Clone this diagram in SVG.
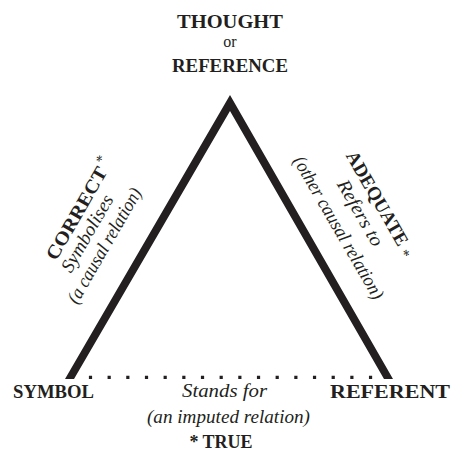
<svg xmlns="http://www.w3.org/2000/svg" width="453" height="469" viewBox="0 0 453 469">
<style>
text{font-family:"Liberation Serif","Times New Roman",serif;fill:#231f20}
.b{font-weight:bold;font-size:19px}
.i{font-style:italic;font-size:19px}
.r{font-size:16px}
.m{text-anchor:middle}
.s{font-size:15px;font-weight:normal}
</style>
<rect width="453" height="469" fill="#fff"/>
<g id="connectors">
<polygon id="triangle" points="230,95 393,379 384,379 230,111 74,379 65,379" fill="#231f20"/>
<line id="stands-for" x1="88.9" y1="377.3" x2="373" y2="377.3" stroke="#231f20" stroke-width="3.2" stroke-dasharray="3.2 15.47"/>
</g>
<g id="thought">
<text class="b m" x="230" y="28" textLength="106" lengthAdjust="spacingAndGlyphs">THOUGHT</text>
<text class="r m" x="230" y="47">or</text>
<text class="b m" x="230" y="72" textLength="116" lengthAdjust="spacingAndGlyphs">REFERENCE</text>
</g>
<g id="symbol">
<text class="b" x="13" y="398" textLength="81" lengthAdjust="spacingAndGlyphs">SYMBOL</text>
</g>
<g id="referent">
<text class="b" x="330" y="398" textLength="120" lengthAdjust="spacingAndGlyphs">REFERENT</text>
</g>
<g id="label-left" transform="translate(76,213) rotate(-60)">
<text class="b m" x="0" y="7" textLength="104" lengthAdjust="spacingAndGlyphs">CORRECT</text>
<text class="s" x="55" y="0">*</text>
<text class="i m" x="-12" y="26" textLength="86" lengthAdjust="spacingAndGlyphs">Symbolises</text>
<text class="i m" x="-14" y="47" textLength="130" lengthAdjust="spacingAndGlyphs">(a causal relation)</text>
</g>
<g id="label-right" transform="translate(378,198) rotate(60)">
<text class="b m" x="0" y="7" textLength="106" lengthAdjust="spacingAndGlyphs">ADEQUATE</text>
<text class="s" x="58" y="10">*</text>
<text class="i m" x="4" y="29" textLength="74" lengthAdjust="spacingAndGlyphs">Refers to</text>
<text class="i m" x="6" y="55" textLength="162" lengthAdjust="spacingAndGlyphs">(other causal relation)</text>
</g>
<g id="label-bottom">
<text class="i m" x="224.5" y="397" textLength="85" lengthAdjust="spacingAndGlyphs">Stands for</text>
<text class="i m" x="228.5" y="423" textLength="163" lengthAdjust="spacingAndGlyphs">(an imputed relation)</text>
<text class="b m" x="221" y="448" style="font-size:18px">* TRUE</text>
</g>
</svg>
